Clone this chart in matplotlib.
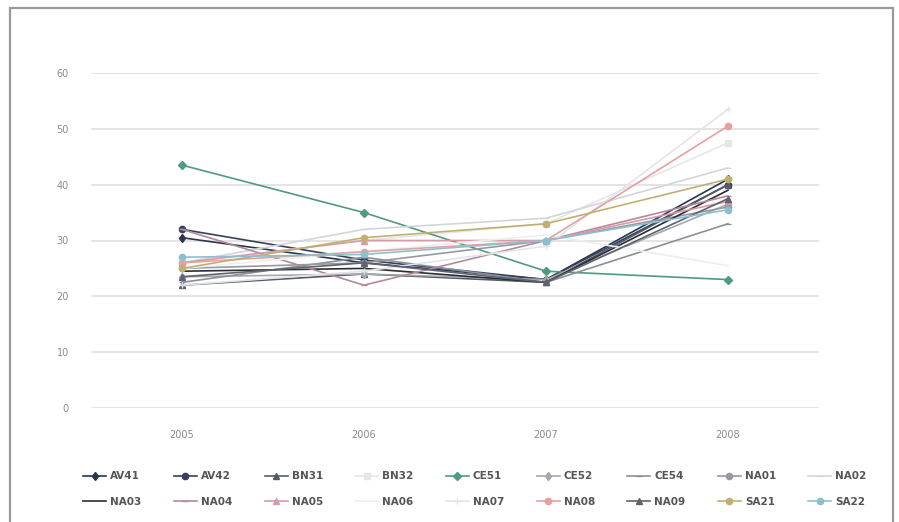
import matplotlib.pyplot as plt
from matplotlib.patches import Rectangle

years = ["2005", "2006", "2007", "2008"]

AV41 = [30.5, 26.0, 23.0, 41.0]
AV42 = [32.0, 26.5, 23.0, 40.0]
BN31 = [22.0, 24.0, 22.5, 40.0]
BN32 = [26.0, 30.0, 33.0, 47.5]
CE51 = [43.5, 35.0, 24.5, 23.0]
CE52 = [23.5, 24.0, 23.0, 36.5]
CE54 = [22.5, 27.0, 22.5, 33.0]
NA01 = [25.0, 26.0, 30.0, 36.0]
NA02 = [26.0, 32.0, 34.0, 43.0]
NA03 = [24.5, 25.0, 22.5, 39.0]
NA04 = [32.0, 22.0, 30.0, 38.0]
NA05 = [26.0, 30.0, 30.0, 37.0]
NA06 = [25.0, 28.0, 31.0, 25.5]
NA07 = [22.0, 24.5, 29.0, 53.5]
NA08 = [26.0, 28.0, 30.0, 50.5]
NA09 = [23.5, 26.0, 22.5, 37.5]
SA21 = [25.0, 30.5, 33.0, 41.0]
SA22 = [27.0, 27.5, 30.0, 35.5]

names = ["AV41", "AV42", "BN31", "BN32", "CE51", "CE52", "CE54", "NA01", "NA02",
         "NA03", "NA04", "NA05", "NA06", "NA07", "NA08", "NA09", "SA21", "SA22"]
series = [AV41, AV42, BN31, BN32, CE51, CE52, CE54, NA01, NA02,
          NA03, NA04, NA05, NA06, NA07, NA08, NA09, SA21, SA22]

colors = ["#2b3550", "#34405e", "#555b66", "#e4e6ea", "#4f9a80", "#a4a8ae",
          "#8a9098", "#969a9f", "#d2d5d9", "#2a2d33", "#b48a9a", "#d89aa8",
          "#eceef0", "#e2e5e8", "#e6a0a2", "#5d6470", "#c0b070", "#8cc0ce"]
markers = ["d", "o", "^", "s", "D", "d", "_", "o", "_",
           "", "_", "^", "", "+", "o", "^", "o", "o"]

fig = plt.figure(figsize=(8.99, 5.22), dpi=100)
fig.patches.append(Rectangle((10 / 899, -0.05), 883 / 899, 1.05 - 8 / 522,
                             transform=fig.transFigure, fill=False,
                             edgecolor="#9a9a9a", lw=1.6))

ax = fig.add_axes([91 / 899, 1 - 408 / 522, 728 / 899, 335 / 522])
x = range(len(years))
handles = []
for name, vals, c, m in zip(names, series, colors, markers):
    h, = ax.plot(x, vals, color=c, lw=1.2, marker=m if m else None,
                 markersize=4.5, label=name)
    handles.append(h)

ax.set_xlim(-0.5, 3.5)
ax.set_ylim(0, 60)
ax.set_yticks(range(0, 61, 10))
ax.set_xticks(list(x))
ax.set_xticklabels(years)
ax.yaxis.grid(True, color="#e4e4e4", lw=1.4)
ax.set_axisbelow(True)
for s in ax.spines.values():
    s.set_visible(False)
ax.tick_params(length=0, labelsize=7, labelcolor="#8a8a8a")
ax.tick_params(axis="y", pad=16)
ax.tick_params(axis="x", pad=16)

# two rows of nine, filled across rows
order = []
for col in range(9):
    order += [col, col + 9]
fig.legend([handles[i] for i in order], [names[i] for i in order],
           loc="center", bbox_to_anchor=(475 / 899, 1 - 489 / 522), ncol=9,
           frameon=False, handlelength=2.2, columnspacing=3.1,
           handletextpad=0.4, labelspacing=1.5,
           prop={"weight": "bold", "size": 7.5})
for t in fig.legends[0].get_texts():
    t.set_color("#555555")

fig.savefig("out.png", dpi=100)
